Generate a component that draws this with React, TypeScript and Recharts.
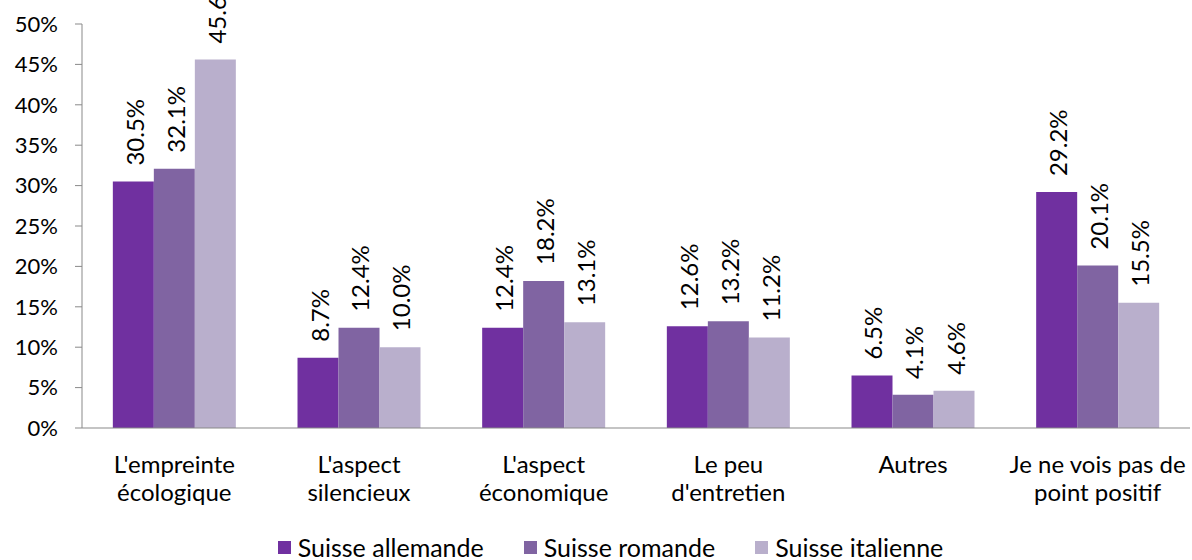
import React from "react";
import {
  BarChart,
  Bar,
  XAxis,
  YAxis,
  Legend,
  LabelList
} from "recharts";

// Categories (line breaks as in the original chart)
const categories = [
  "L'empreinte\nécologique",
  "L'aspect\nsilencieux",
  "L'aspect\néconomique",
  "Le peu\nd'entretien",
  "Autres",
  "Je ne vois pas de\npoint positif"
];

// Values in percent
const allemande = [30.5, 8.7, 12.4, 12.6, 6.5, 29.2];
const romande = [32.1, 12.4, 18.2, 13.2, 4.1, 20.1];
const italienne = [45.6, 10.0, 13.1, 11.2, 4.6, 15.5];

const seriesNames = ["Suisse allemande", "Suisse romande", "Suisse italienne"];
const colors = ["#7030A0", "#8064A2", "#B9AFCC"];

const yTicks = [0, 5, 10, 15, 20, 25, 30, 35, 40, 45, 50];
const edgeTicks = [0, 1, 2, 3, 4, 5, 6];

const data = categories.map((c, i) => ({
  cat: c,
  allemande: allemande[i],
  romande: romande[i],
  italienne: italienne[i]
}));

const FONT = "Lato, 'Open Sans', sans-serif";
const AXIS = "#898989";

// rotated value label above each bar
function ValueLabel(props: any) {
  const { x, y, width, value } = props;
  const cx = Number(x) + Number(width) / 2 + 1;
  const cy = Number(y) - 16;
  return (
    <text
      x={cx}
      y={cy}
      transform={`rotate(-90, ${cx}, ${cy})`}
      textAnchor="start"
      dominantBaseline="central"
      fontSize={24}
      fontFamily={FONT}
      fill="#000"
    >
      {Number(value).toFixed(1)}%
    </text>
  );
}

// two-line category label
function CategoryTick(props: any) {
  const { x, y, payload } = props;
  const lines = String(payload.value).split("\n");
  return (
    <g>
      {lines.map((l, i) => (
        <text
          key={i}
          x={x}
          y={y + 45 + i * 28}
          textAnchor="middle"
          fontSize={24}
          fontFamily={FONT}
          fill="#000"
        >
          {l}
        </text>
      ))}
    </g>
  );
}

function LegendContent() {
  return (
    <div
      style={{
        display: "flex",
        justifyContent: "center",
        gap: 40,
        paddingLeft: 29,
        paddingTop: 6,
        height: 26,
        fontFamily: FONT,
        fontSize: 25,
        color: "#000"
      }}
    >
      {seriesNames.map((n, i) => (
        <div key={n} style={{ display: "flex", alignItems: "center" }}>
          <span
            style={{
              display: "inline-block",
              width: 13,
              height: 13,
              background: colors[i],
              marginRight: 7
            }}
          />
          <span style={{ lineHeight: "26px" }}>{n}</span>
        </div>
      ))}
    </div>
  );
}

export default function App() {
  return (
    <div style={{ position: "absolute", left: 0, top: 0, width: 1192, height: 560, background: "#fff" }}>
      <BarChart
        width={1192}
        height={560}
        data={data}
        margin={{ top: 24, right: 2, left: 22, bottom: 0 }}
        barGap={0}
        barCategoryGap="16.7%"
      >
        {/* category boundary tick marks */}
        <XAxis
          xAxisId="edges"
          type="number"
          domain={[0, 6]}
          ticks={edgeTicks}
          tick={false}
          tickSize={7}
          tickLine={{ stroke: AXIS }}
          axisLine={false}
          height={0}
          allowDataOverflow
        />
        <XAxis
          dataKey="cat"
          tick={<CategoryTick />}
          tickLine={false}
          tickSize={0}
          tickMargin={0}
          axisLine={{ stroke: AXIS }}
          height={100}
          interval={0}
        />
        <YAxis
          domain={[0, 50]}
          ticks={yTicks}
          tickFormatter={(v) => `${v}%`}
          tickSize={7}
          tickMargin={17}
          tickLine={{ stroke: AXIS }}
          axisLine={{ stroke: AXIS }}
          tick={{ fontSize: 22, fontFamily: FONT, fill: "#000" }}
          width={60}
          interval={0}
        />
        <Legend verticalAlign="bottom" height={32} content={<LegendContent />} wrapperStyle={{ left: 0, width: 1192 }} />
        <Bar dataKey="allemande" name={seriesNames[0]} fill={colors[0]} isAnimationActive={false}>
          <LabelList dataKey="allemande" content={<ValueLabel />} />
        </Bar>
        <Bar dataKey="romande" name={seriesNames[1]} fill={colors[1]} isAnimationActive={false}>
          <LabelList dataKey="romande" content={<ValueLabel />} />
        </Bar>
        <Bar dataKey="italienne" name={seriesNames[2]} fill={colors[2]} isAnimationActive={false}>
          <LabelList dataKey="italienne" content={<ValueLabel />} />
        </Bar>
      </BarChart>
    </div>
  );
}
